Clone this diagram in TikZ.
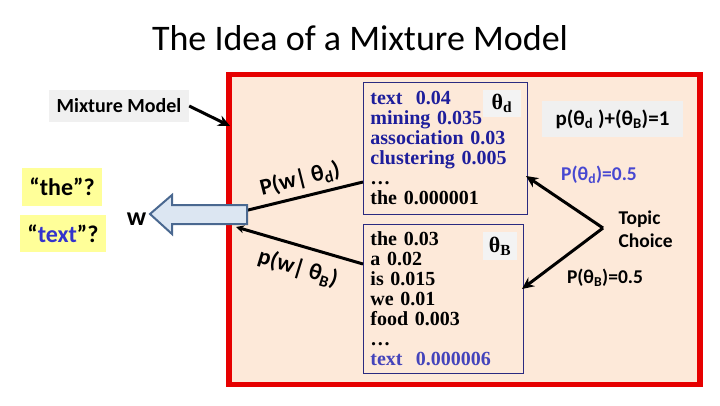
\documentclass[tikz,border=0pt]{standalone}
\usepackage{fontspec}
\setmainfont{Carlito}
\newfontfamily\tnr{Liberation Serif}
\usetikzlibrary{arrows.meta}
\definecolor{peach}{HTML}{FDE9D9}
\definecolor{frame}{HTML}{E60000}
\definecolor{lgray}{HTML}{F0F0F0}
\definecolor{qyellow}{HTML}{FFFF99}
\definecolor{qblue}{HTML}{3333CC}
\definecolor{dblue}{HTML}{1E1E9C}
\definecolor{mblue}{HTML}{4444BB}
\definecolor{boxline}{HTML}{2A2A80}
\definecolor{afill}{HTML}{DCE6F2}
\definecolor{aline}{HTML}{4A6890}
\tikzset{
  graylabel/.style={fill=lgray, inner sep=0pt},
  yellowbox/.style={fill=qyellow, inner sep=0pt, font=\fontsize{24}{26}\selectfont\bfseries},
  distbox/.style={draw=boxline, line width=0.9pt, anchor=north west, inner xsep=7pt, inner ysep=0pt,
    align=left, font=\tnr\bfseries\fontsize{20}{20}\selectfont},
  thbox/.style={fill=lgray!80!white, inner sep=0pt, font=\tnr\bfseries\fontsize{22}{22}\selectfont},
  thickarrow/.style={line width=3pt, -{Stealth[length=12pt,width=11pt]}},
  branch/.style={line width=3pt},
  plabel/.style={font=\fontsize{23}{23}\selectfont\bfseries},
  rlabel/.style={font=\fontsize{19.5}{23}\selectfont\bfseries}
}
\begin{document}
\begin{tikzpicture}[x=1pt,y=-1pt]
\useasboundingbox (0,0) rectangle (720,405);
\fill[white] (0,0) rectangle (720,405);
% title
\node[font=\fontsize{36}{40}\selectfont] (title) at (360,38) {The Idea of a Mixture Model};
% red frame
\draw[draw=frame, line width=5.5pt, fill=peach] (229,74.5) rectangle (700,384.5);
% left labels
\node[graylabel, minimum width=140, minimum height=32, font=\fontsize{20}{24}\selectfont\bfseries] (mm) at (119,106) {Mixture Model};
\coordinate (mmtip) at (230,126);
\draw[thickarrow] (mm.east) -- (mmtip);
\node[yellowbox, minimum width=80, minimum height=38] (qthe) at (62,187) {“the”?};
\node[yellowbox, minimum width=86, minimum height=37] (qtext) at (63,233.5) {“\textcolor{qblue}{text}”?};
\node[anchor=base, font=\fontsize{26}{26}\selectfont\bfseries, inner sep=0pt] (w) at (136.5,225) {w};
% distribution boxes
\node[distbox, minimum width=164, minimum height=132, text width=150] (boxd) at (363,82)
 {\textcolor{dblue}{text\ \ 0.04}\\
  \textcolor{dblue}{mining 0.035}\\
  \textcolor{dblue}{association 0.03}\\
  \textcolor{dblue}{clustering 0.005}\\
  …\\
  the 0.000001};
\node[thbox, minimum width=38, minimum height=27] (thd) at (502,103.5) {θ\textsubscript{d}};
\node[distbox, minimum width=160, minimum height=149, text width=146] (boxb) at (363,224)
 {the 0.03\\
  a 0.02\\
  is 0.015\\
  we 0.01\\
  food 0.003\\
  …\\
  \textcolor{mblue}{text\ \ 0.000006}};
\node[thbox, minimum width=34, minimum height=28] (thb) at (500,246) {θ\textsubscript{B}};
% branches from the word arrow
\coordinate (ua) at (240,212);
\coordinate (ub) at (363,182);
\coordinate (la) at (236,227);
\coordinate (lb) at (363,264);
\draw[branch] (ua) -- (ub);
\draw[branch, -{Stealth[length=8pt,width=8pt]}] (lb) -- (la);
\node[plabel, rotate=14] (lbd) at (300,179) {P(w| θ\textsubscript{d})};
\node[plabel, rotate=-17] (lbb) at (298,268) {p(w| θ\textsubscript{B})};
% block arrow toward w
\draw[fill=afill, draw=aline, line width=2pt, line join=miter]
  (150,214) -- (172,195) -- (172,205) -- (247,205) -- (247,224) -- (172,224) -- (172,234) -- cycle;
% right side
\node[graylabel, minimum width=141, minimum height=36, font=\fontsize{21}{24}\selectfont\bfseries] (sum) at (612.5,119)
  {p(θ\textsubscript{d} )+(θ\textsubscript{B})=1};
\node[rlabel, text=qblue!90!white] (pd) at (599,175) {P(θ\textsubscript{d})=0.5};
\node[rlabel, anchor=west, align=left] (tc) at (615,229) {Topic\\Choice};
\node[rlabel] (pb) at (605,278) {P(θ\textsubscript{B})=0.5};
\coordinate (v) at (603,228);
\coordinate (ad) at (526,176);
\coordinate (ab) at (522,289);
\draw[thickarrow] (v) -- (ad);
\draw[thickarrow] (v) -- (ab);
\end{tikzpicture}
\end{document}
